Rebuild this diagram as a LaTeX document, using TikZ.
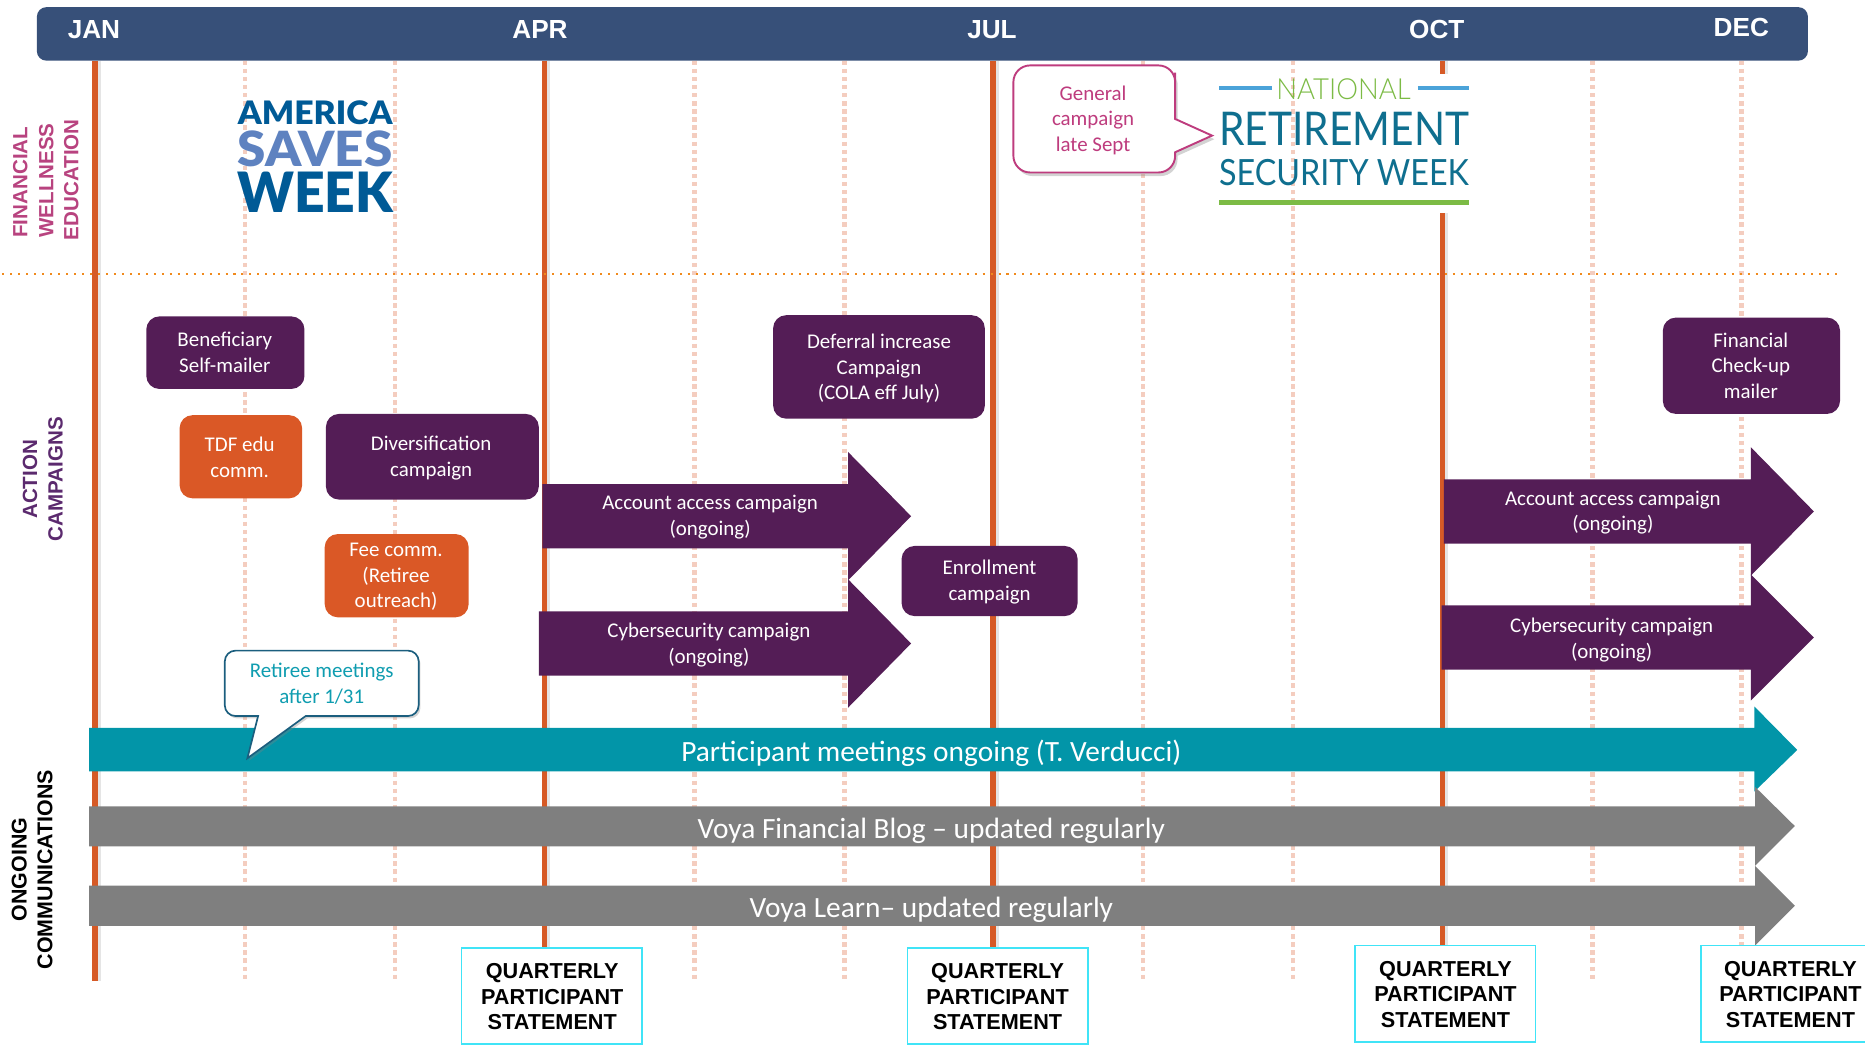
\documentclass[tikz,border=0pt]{standalone}
\usepackage{fontspec}
\usepackage{graphicx}
\usetikzlibrary{shadows}
\setmainfont{Carlito}
\newfontfamily\headfont{Liberation Sans}
\newfontfamily\logofont{Lato Black}
\newfontfamily\midlogo{Lato}
\newfontfamily\lightlogo{Lato Light}
\definecolor{headblue}{HTML}{375079}
\definecolor{lineorange}{HTML}{D65A26}
\definecolor{dotpink}{HTML}{F4CDBF}
\definecolor{dotorange}{HTML}{F08A1D}
\definecolor{plum}{HTML}{541D56}
\definecolor{boxorange}{HTML}{DA5826}
\definecolor{teal1}{HTML}{0295A8}
\definecolor{grey1}{HTML}{7F7F7F}
\definecolor{magenta1}{HTML}{BE3C7E}
\definecolor{label1}{HTML}{B8437F}
\definecolor{label2}{HTML}{5B2A6E}
\definecolor{cyan1}{HTML}{40E4F7}
\definecolor{calloutline}{HTML}{1B5E7E}
\definecolor{calloutteal}{HTML}{0F9DB0}
\definecolor{asw1}{HTML}{005A96}
\definecolor{asw2}{HTML}{5E82C0}
\definecolor{nrsw1}{HTML}{0F6F8F}
\definecolor{nrswg}{HTML}{7CBB45}
\definecolor{nrswb}{HTML}{4BA3D9}
\tikzset{
  month/.style={text=white,font=\headfont\bfseries\fontsize{22}{24}\selectfont,inner sep=0pt},
  quarterline/.style={lineorange,line width=4.5pt},
  lineshade/.style={black!10,line width=3pt},
  monthdots/.style={dotpink,line width=4pt,dash pattern=on 3.7pt off 3.1pt},
  sidelabel/.style={font=\headfont\bfseries\fontsize{17.3}{21.5}\selectfont,rotate=90,align=center,inner sep=0pt},
  sideleft/.style={font=\headfont\bfseries\fontsize{17.3}{21.5}\selectfont,rotate=90,anchor=west,inner sep=0pt},
  bodytext/.style={text=white,font=\fontsize{17.6}{21.6}\selectfont,align=center,inner sep=0pt},
  roundbox/.style={rounded corners=11pt,fill=plum},
  orangebox/.style={rounded corners=11pt,fill=boxorange},
  bigtext/.style={text=white,font=\fontsize{24.7}{26}\selectfont,inner sep=0pt},
  statement/.style={draw=cyan1,line width=1.5pt,fill=white},
  statetext/.style={font=\headfont\bfseries\fontsize{18.2}{21.5}\selectfont,align=center,inner sep=0pt},
  logotext/.style={inner sep=0pt},
}
\begin{document}
\begin{tikzpicture}[x=1pt,y=-1pt]
\useasboundingbox (0,0) rectangle (1568,878.6);
% orange quarter lines
\foreach \x/\e in {80/825,458/800,835/800,1213/800}{
  \draw[lineshade] (\x+3,51) -- (\x+3,\e);
  \draw[quarterline] (\x,51) -- (\x,\e);
}
% white plate of the logo hides the October line
\fill[white] (1017,62) rectangle (1242,179);
% month dotted lines
\foreach \x in {206,332,584,710,961,1087,1339,1464}
  \draw[monthdots] (\x,51) -- (\x,825);
% horizontal separator
\draw[dotorange,line width=1.6pt,dash pattern=on 1.7pt off 5pt] (2,230) -- (1548,230);
% header
\fill[headblue,rounded corners=8pt] (31,6) rectangle (1520,51);
\node[month] (jan) at (79,24.5) {JAN};
\node[month] (apr) at (454,24.5) {APR};
\node[month] (jul) at (834,24.5) {JUL};
\node[month] (oct) at (1208,24.5) {OCT};
\node[month] (dec) at (1464,23.5) {DEC};
% side labels
\node[sideleft,text=label1] (sl1) at (17,200) {FINANCIAL};
\node[sideleft,text=label1] (sl2) at (39,200) {WELLNESS};
\node[sideleft,text=label1] (sl3) at (60,202) {EDUCATION};
\node[sidelabel,text=label2] (sl4) at (36,403) {ACTION\\CAMPAIGNS};
\node[sidelabel,text=black,font=\headfont\bfseries\fontsize{18}{21.5}\selectfont] (sl5) at (27,731) {ONGOING\\COMMUNICATIONS};
% America Saves Week logo
\node[logotext,text=asw1] (asw1n) at (265,95) {\resizebox{130pt}{20pt}{\logofont AMERICA}};
\node[logotext,text=asw2] (asw2n) at (265,125.5) {\resizebox{130pt}{30pt}{\logofont SAVES}};
\node[logotext,text=asw1] (asw3n) at (265,162) {\resizebox{131pt}{34pt}{\logofont WEEK}};
% National Retirement Security Week logo
\coordinate (nb1) at (1025,74); \coordinate (nb2) at (1069,74);
\coordinate (nb3) at (1192,74); \coordinate (nb4) at (1235,74);
\coordinate (ng1) at (1025,170.5); \coordinate (ng2) at (1235,170.5);
\draw[nrswb,line width=3.5pt] (nb1) -- (nb2);
\draw[nrswb,line width=3.5pt] (nb3) -- (nb4);
\draw[nrswg,line width=4.5pt] (ng1) -- (ng2);
\node[logotext,text=nrswg] (nr1) at (1129.5,75) {\resizebox{113pt}{17.5pt}{\lightlogo NATIONAL}};
\node[logotext,text=nrsw1] (nr2) at (1130,108.5) {\resizebox{210pt}{28pt}{\midlogo RETIREMENT}};
\node[logotext,text=nrsw1] (nr3) at (1130,145.5) {\resizebox{210pt}{22pt}{\midlogo SECURITY WEEK}};
% General campaign callout
\path[draw=magenta1,line width=1.6pt,fill=white,drop shadow={shadow xshift=2pt,shadow yshift=-3pt,opacity=.35}]
  [rounded corners=14pt] (852,55) -- (988,55) -- (988,75) [sharp corners] -- (988,100) -- (1019,114) -- (988,128) -- (988,130) [rounded corners=14pt] -- (988,145) -- (852,145) -- cycle;
\node[bodytext,text=magenta1] (gc) at (919,101) {General\\campaign\\late Sept};
% boxes
\fill[roundbox] (123,266) rectangle (256,327);
\node[bodytext] (b1) at (189,296.5) {Beneficiary\\Self-mailer};
\fill[orangebox] (151,349) rectangle (254,419);
\node[bodytext] (b2) at (201.5,384.5) {TDF edu\\comm.};
\fill[roundbox] (274,348) rectangle (453,420);
\node[bodytext] (b3) at (362.5,385) {Diversification\\campaign};
\fill[orangebox] (273,449) rectangle (394,519);
\node[bodytext] (b4) at (333,485) {Fee comm.\\(Retiree\\outreach)};
\fill[roundbox] (650,265) rectangle (828,352);
\node[bodytext] (b5) at (739,310) {Deferral increase\\Campaign\\(COLA eff July)};
\fill[roundbox] (758,459) rectangle (906,518);
\node[bodytext] (b6) at (832,489.5) {Enrollment\\campaign};
\fill[roundbox] (1398,267) rectangle (1547,348);
\node[bodytext] (b7) at (1472,307.5) {Financial\\Check-up\\mailer};
% purple arrows
\fill[plum] (456,407) -- (713,407) -- (713,380) -- (766,434) -- (713,488) -- (713,461) -- (456,461) -- cycle;
\node[bodytext] (a1) at (597,435) {Account access campaign\\(ongoing)};
\fill[plum] (453,514) -- (713,514) -- (713,487) -- (766,541) -- (713,595) -- (713,568) -- (453,568) -- cycle;
\node[bodytext] (a2) at (596,542.5) {Cybersecurity campaign\\(ongoing)};
\fill[plum] (1214,403) -- (1472,403) -- (1472,376) -- (1525,430) -- (1472,484) -- (1472,457) -- (1214,457) -- cycle;
\node[bodytext] (a3) at (1356,431) {Account access campaign\\(ongoing)};
\fill[plum] (1212,509) -- (1472,509) -- (1472,483) -- (1525,536) -- (1472,589) -- (1472,563) -- (1212,563) -- cycle;
\node[bodytext] (a4) at (1355,538) {Cybersecurity campaign\\(ongoing)};
% long arrows
\fill[teal1] (75,612) -- (1475,612) -- (1475,594) -- (1511,630.5) -- (1475,665.5) -- (1475,648.5) -- (75,648.5) -- cycle;
\node[bigtext] (l1) at (783,633) {Participant meetings ongoing (T. Verducci)};
\fill[grey1] (75,678) -- (1475.5,678) -- (1475.5,661.5) -- (1509,694.5) -- (1475.5,728) -- (1475.5,711.5) -- (75,711.5) -- cycle;
\node[bigtext] (l2) at (783,698.5) {Voya Financial Blog – updated regularly};
\fill[grey1] (75,744.5) -- (1475.5,744.5) -- (1475.5,728) -- (1509,761.5) -- (1475.5,795) -- (1475.5,778.5) -- (75,778.5) -- cycle;
\node[bigtext] (l3) at (783,765) {Voya Learn– updated regularly};
% Retiree callout
\path[draw=calloutline,line width=1.4pt,fill=white,drop shadow={shadow xshift=1.5pt,shadow yshift=-2pt,opacity=.35}]
  [rounded corners=9pt] (189,547) -- (352,547) -- (352,602) -- (270,602) [sharp corners] -- (257,602) -- (208,637.5) -- (217,602) -- (205,602) [rounded corners=9pt] -- (189,602) -- cycle;
\node[bodytext,text=calloutteal] (rm) at (270.5,575) {Retiree meetings\\after 1/31};
% statements
\node[statement,minimum width=152pt,minimum height=81pt,inner sep=0pt] (s1) at (464,837.5) {};
\node[statetext] at (464.3,838) {QUARTERLY\\PARTICIPANT\\STATEMENT};
\node[statement,minimum width=152pt,minimum height=81pt,inner sep=0pt] (s2) at (839,837.5) {};
\node[statetext] at (838.7,838) {QUARTERLY\\PARTICIPANT\\STATEMENT};
\node[statement,minimum width=152pt,minimum height=81pt,inner sep=0pt] (s3) at (1215,835.5) {};
\node[statetext] at (1215.3,836) {QUARTERLY\\PARTICIPANT\\STATEMENT};
\fill[white] (1430,795) rectangle (1568,876);
\draw[cyan1,line width=1.5pt] (1568,795) -- (1430,795) -- (1430,876) -- (1568,876);
\node[statetext] (s4t) at (1505.3,836) {QUARTERLY\\PARTICIPANT\\STATEMENT};
\end{tikzpicture}
\end{document}
